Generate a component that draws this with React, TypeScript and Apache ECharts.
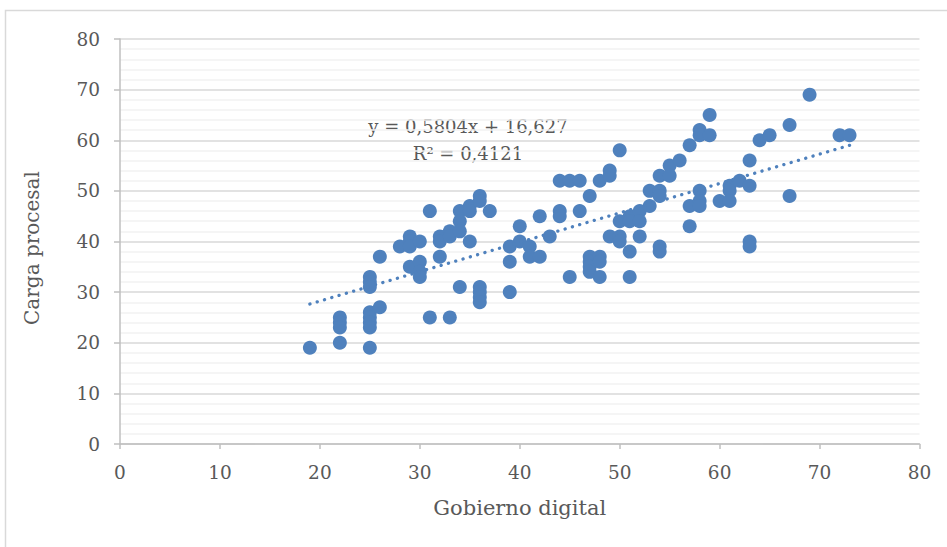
import React, { useEffect, useRef } from "react";
import * as echarts from "echarts";

// Gobierno digital (x) and Carga procesal (y), paired by index
const gobiernoDigital = [
  19,
  22, 22, 22, 22,
  25, 25, 25, 25, 25, 25, 25, 25,
  26, 26,
  28,
  29, 29, 29, 29,
  30, 30, 30, 30,
  31, 31,
  32, 32, 32,
  33, 33, 33,
  34, 34, 34, 34,
  35, 35, 35,
  36, 36, 36, 36, 36, 36,
  37,
  39, 39, 39,
  40, 40,
  41, 41,
  42, 42,
  43,
  44, 44, 44,
  45, 45,
  46, 46,
  47, 47, 47, 47, 47,
  48, 48, 48, 48,
  49, 49, 49,
  50, 50, 50, 50,
  51, 51, 51, 51,
  52, 52, 52,
  53, 53,
  54, 54, 54, 54, 54,
  55, 55,
  56,
  57, 57, 57,
  58, 58, 58, 58, 58,
  59, 59,
  60,
  61, 61, 61,
  62,
  63, 63, 63, 63,
  64,
  65,
  67, 67,
  69,
  72,
  73,
];
const cargaProcesal = [
  19,
  25, 24, 23, 20,
  33, 32, 31, 26, 25, 24, 23, 19,
  37, 27,
  39,
  41, 40, 39, 35,
  40, 36, 34, 33,
  46, 25,
  41, 40, 37,
  42, 41, 25,
  46, 44, 42, 31,
  47, 46, 40,
  49, 48, 31, 30, 29, 28,
  46,
  39, 36, 30,
  43, 40,
  39, 37,
  45, 37,
  41,
  52, 46, 45,
  52, 33,
  52, 46,
  49, 37, 36, 35, 34,
  52, 37, 36, 33,
  54, 53, 41,
  58, 44, 41, 40,
  45, 44, 38, 33,
  46, 44, 41,
  50, 47,
  53, 50, 49, 39, 38,
  55, 53,
  56,
  59, 47, 43,
  62, 61, 50, 48, 47,
  65, 61,
  48,
  51, 50, 48,
  52,
  56, 51, 40, 39,
  60,
  61,
  63, 49,
  69,
  61,
  61,
];

const trendSlope = 0.5804;
const trendIntercept = 16.627;
const equationText = "y = 0,5804x + 16,627";
const r2Text = "R² = 0,4121";
const xAxisTitle = "Gobierno digital";
const yAxisTitle = "Carga procesal";

const FONT = "'DejaVu Serif', serif";
const BLUE = "#4F81BD";
const GRAY_TEXT = "#595959";

export default function App() {
  const ref = useRef<HTMLDivElement>(null);

  useEffect(() => {
    if (!ref.current) return;
    const chart = echarts.init(ref.current, undefined, { renderer: "svg" });
    const points = gobiernoDigital.map((x, i) => [x, cargaProcesal[i]]);
    const xMin = Math.min(...gobiernoDigital);
    const xMax = Math.max(...gobiernoDigital);
    const trend = [
      [xMin, trendSlope * xMin + trendIntercept],
      [xMax, trendSlope * xMax + trendIntercept],
    ];

    chart.setOption({
      animation: false,
      textStyle: { fontFamily: FONT },
      grid: { left: 120, right: 27.5, top: 39, bottom: 103 },
      xAxis: {
        type: "value",
        min: 0,
        max: 80,
        interval: 10,
        name: xAxisTitle,
        nameLocation: "middle",
        nameGap: 53,
        nameTextStyle: { fontSize: 21, color: GRAY_TEXT, fontFamily: FONT },
        axisLine: { show: true, lineStyle: { color: "#BFBFBF", width: 1.5 } },
        axisTick: { show: true, length: 5, lineStyle: { color: "#BFBFBF", width: 1.5 } },
        axisLabel: { fontSize: 18.5, color: GRAY_TEXT, margin: 19, fontFamily: FONT },
        splitLine: { show: false },
      },
      yAxis: {
        type: "value",
        min: 0,
        max: 80,
        interval: 10,
        axisLine: { show: true, lineStyle: { color: "#BFBFBF", width: 1.5 } },
        axisTick: { show: true, length: 6, lineStyle: { color: "#BFBFBF", width: 1.5 } },
        axisLabel: { fontSize: 18.5, color: GRAY_TEXT, margin: 20, fontFamily: FONT },
        splitLine: { show: true, lineStyle: { color: "#D9D9D9", width: 1.5 } },
        minorTick: { show: false, splitNumber: 5 },
        minorSplitLine: { show: true, lineStyle: { color: "#F2F2F2", width: 1.5 } },
      },
      series: [
        {
          type: "scatter",
          data: points,
          symbol: "circle",
          symbolSize: 14,
          itemStyle: { color: BLUE, opacity: 1 },
          z: 2,
        },
        {
          type: "line",
          data: trend,
          symbol: "none",
          lineStyle: { color: BLUE, width: 3.3, type: [0.1, 7.5], cap: "round" },
          z: 3,
        },
      ],
      graphic: [
        {
          type: "rect",
          shape: { x: 5.5, y: 10.5, width: 960, height: 600 },
          style: { fill: "none", stroke: "#D9D9D9", lineWidth: 1.5 },
          silent: true,
          z: -10,
        },
        {
          type: "text",
          x: 32,
          y: 248,
          rotation: Math.PI / 2,
          style: {
            text: yAxisTitle,
            fontSize: 20,
            fontFamily: FONT,
            fill: GRAY_TEXT,
            textAlign: "center",
            textVerticalAlign: "middle",
          },
        },
        {
          type: "text",
          x: 468,
          y: 126,
          style: {
            text: equationText,
            fontSize: 18,
            fontFamily: FONT,
            fill: GRAY_TEXT,
            textAlign: "center",
            textVerticalAlign: "middle",
          },
        },
        {
          type: "text",
          x: 468,
          y: 153,
          style: {
            text: r2Text,
            fontSize: 18,
            fontFamily: FONT,
            fill: GRAY_TEXT,
            textAlign: "center",
            textVerticalAlign: "middle",
          },
        },
      ],
    });
    return () => chart.dispose();
  }, []);

  return (
    <div
      ref={ref}
      style={{ position: "fixed", left: 0, top: 0, width: 947, height: 547, background: "#fff" }}
    />
  );
}
